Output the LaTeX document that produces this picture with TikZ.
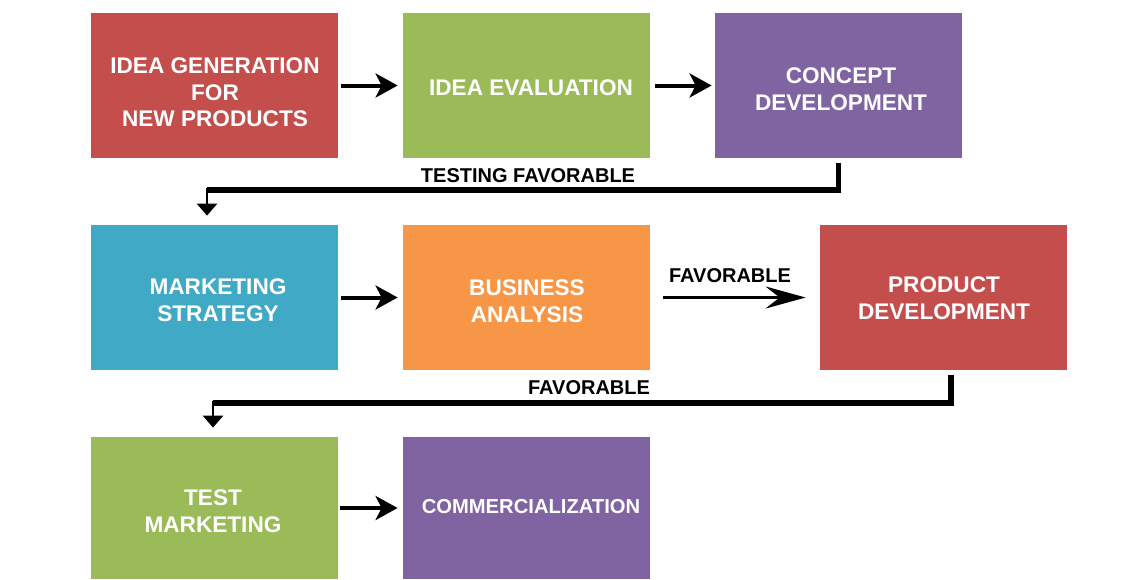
\documentclass[tikz,border=0pt]{standalone}
\usepackage{fontspec}
\setmainfont{Liberation Sans}
\usetikzlibrary{arrows.meta}
\definecolor{cred}{HTML}{C44E4C}
\definecolor{cgreen}{HTML}{9BBB59}
\definecolor{cpurple}{HTML}{8064A2}
\definecolor{cblue}{HTML}{40A9C6}
\definecolor{corange}{HTML}{F79646}
\begin{document}
\begin{tikzpicture}[x=0.5pt,y=-0.5pt,
  box/.style={rectangle, minimum width=123.5pt, minimum height=72.5pt, inner sep=0pt},
  lowbox/.style={box, minimum height=71pt},
  boxtext/.style={inner sep=0pt, text=white, align=center, font=\fontsize{11.3}{13.3}\selectfont\bfseries},
  lbl/.style={inner sep=0pt, text=black, font=\fontsize{10}{12}\selectfont\bfseries},
  flow/.style={line width=2pt, -{Stealth[length=11pt,width=12pt,inset=3pt]}},
  longflow/.style={line width=1.6pt, -{Stealth[length=20pt,width=11pt,inset=7pt]}},
  elbowline/.style={line width=2.6pt},
  elbowtip/.style={line width=1.4pt, -{Triangle[length=6pt,width=10pt]}}
]
\useasboundingbox (0,0) rectangle (1143,579);
\fill[white] (0,0) rectangle (1143,579);

% row 1
\node[box, fill=cred] (A) at (214.5,85.5) {};
\node[box, fill=cgreen] (B) at (526.5,85.5) {};
\node[box, fill=cpurple] (C) at (838.5,85.5) {};
% row 2
\node[box, fill=cblue] (MS) at (214.5,297.5) {};
\node[box, fill=corange] (BA) at (526.5,297.5) {};
\node[box, fill=cred] (PD) at (943.5,297.5) {};
% row 3
\node[lowbox, fill=cgreen] (TM) at (214.5,508) {};
\node[lowbox, fill=cpurple] (CO) at (526.5,508) {};

% box texts
\node[boxtext] (At) at ([shift={(0.5,7)}]A.center) {IDEA GENERATION\\FOR\\NEW PRODUCTS};
\node[boxtext] (Bt) at ([shift={(4.5,2)}]B.center) {IDEA EVALUATION};
\node[boxtext] (Ct) at ([shift={(2.5,3.5)}]C.center) {CONCEPT\\DEVELOPMENT};
\node[boxtext] (MSt) at ([shift={(3.5,3)}]MS.center) {MARKETING\\STRATEGY};
\node[boxtext] (BAt) at ([shift={(0.5,4)}]BA.center) {BUSINESS\\ANALYSIS};
\node[boxtext] (PDt) at ([shift={(0.5,0.5)}]PD.center) {PRODUCT\\DEVELOPMENT};
\node[boxtext] (TMt) at ([shift={(-1.5,3)}]TM.center) {TEST\\MARKETING};
\node[boxtext, font=\fontsize{10.1}{12}\selectfont\bfseries] (COt) at ([shift={(4.5,-1.5)}]CO.center) {COMMERCIALIZATION};

% straight arrows
\draw[flow] ([xshift=1.5pt]A.east) -- ([xshift=-2.5pt]B.west);
\draw[flow] ([xshift=2.5pt]B.east) -- ([xshift=-1.5pt]C.west);
\draw[flow] ([xshift=1.5pt]MS.east) -- ([xshift=-2.5pt]BA.west);
\draw[longflow] ([xshift=6.5pt]BA.east) -- ([xshift=-7pt]PD.west);
\node[lbl] (f1) at (730,276) {FAVORABLE};
\draw[flow] ([xshift=1pt]TM.east) -- ([xshift=-2.5pt]CO.west);

% elbow 1
\coordinate (k1) at (207,190);
\draw[elbowline] ([shift={(0,5)}]C.south) |- (k1);
\draw[elbowtip] ([yshift=1pt]k1) -- ([yshift=4.5pt]k1 |- MS.north);
\node[lbl] (t1) at (528,176) {TESTING FAVORABLE};

% elbow 2
\coordinate (k2) at (213,403);
\draw[elbowline] ([shift={(7.5,5)}]PD.south) |- (k2);
\draw[elbowtip] ([yshift=1pt]k2) -- ([yshift=4.5pt]k2 |- TM.north);
\node[lbl] (t2) at (589,388) {FAVORABLE};
\end{tikzpicture}
\end{document}
